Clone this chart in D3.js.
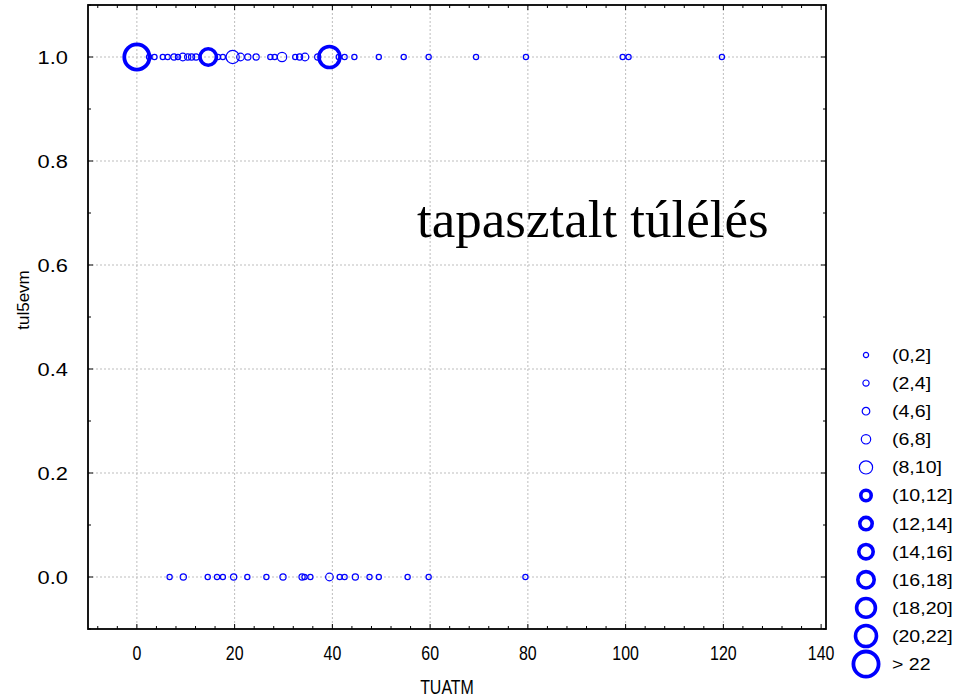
<!DOCTYPE html>
<html lang="en">
<head>
  <meta charset="UTF-8">
  <title>tul5evm vs TUATM</title>
  <script src="https://d3js.org/d3.v7.min.js"></script>
  <style>
    body {
      margin: 0;
      background: white;
      font-family: "Liberation Sans", Arial, sans-serif;
    }
    svg { display: block; }
    text { fill: #000; }
    .grid line { stroke: #bdbdbd; stroke-dasharray: 2,2; stroke-width: 1; }
  </style>
</head>
<body>
  <div id="chart"></div>

  <script>
    // TUATM values and point sizes (count in the bin) for the two rows
    const survivedX = [0, 2.5, 3.6, 5.3, 6.3, 7.6, 8.4, 9.4, 10.4, 11.2, 12.1, 14.6, 16.6, 17.6, 19.6,
      21.2, 22.7, 24.4, 27.3, 28.2, 29.7, 32.4, 33.3, 34.4, 37, 39.4, 41.3, 42.5, 44.5,
      49.5, 54.6, 59.7, 69.4, 79.6, 99.4, 100.6, 119.7];
    const survivedN = [23, 1, 1, 1, 1, 3, 1, 5, 3, 3, 3, 17, 1, 1, 9,
      5, 3, 3, 1, 1, 7, 1, 3, 5, 3, 21, 1, 1, 1,
      1, 1, 1, 1, 1, 1, 1, 1];
    const diedX = [6.7, 9.5, 14.5, 16.4, 17.6, 19.8, 22.6, 26.5, 29.9, 33.8, 34.3, 35.5, 39.4,
      41.5, 42.5, 44.7, 47.6, 49.5, 55.4, 59.7, 79.5];
    const diedN = [1, 4, 1, 1, 1, 4, 1, 1, 3, 3, 1, 1, 5,
      1, 1, 3, 1, 1, 1, 1, 1];

    const xTicks = [0, 20, 40, 60, 80, 100, 120, 140];
    const yTicks = [0, 0.2, 0.4, 0.6, 0.8, 1.0];
    const legendLabels = ["(0,2]", "(2,4]", "(4,6]", "(6,8]", "(8,10]", "(10,12]",
      "(12,14]", "(14,16]", "(16,18]", "(18,20]", "(20,22]", "> 22"];
    // outer radius and stroke width for each bin
    const binRadius = [3.2, 3.7, 4.4, 5.3, 7.2, 7.0, 8.0, 9.0, 10.0, 11.2, 12.3, 14.5];
    const binStroke = [1.2, 1.2, 1.2, 1.2, 1.2, 3.6, 3.6, 3.6, 3.6, 3.6, 3.6, 3.8];

    const width = 959, height = 700;
    const m = { left: 88, right: 826, top: 5, bottom: 629 };

    const x = d3.scaleLinear().domain([-10, 141]).range([m.left, m.right]);
    const y = d3.scaleLinear().domain([-0.1, 1.1]).range([m.bottom, m.top]);

    const svg = d3.select("#chart").append("svg")
      .attr("width", width)
      .attr("height", height);

    // dashed grid
    const grid = svg.append("g").attr("class", "grid");
    grid.selectAll(".gx")
      .data(xTicks.filter(d => d < 140))
      .join("line")
      .attr("class", "gx")
      .attr("x1", d => x(d)).attr("x2", d => x(d))
      .attr("y1", m.top).attr("y2", m.bottom);
    grid.selectAll(".gy")
      .data(yTicks)
      .join("line")
      .attr("class", "gy")
      .attr("x1", m.left).attr("x2", m.right)
      .attr("y1", d => y(d)).attr("y2", d => y(d));

    // tick marks on all four sides, pointing inwards
    const xMinor = d3.range(-8, 141, 4).filter(d => d % 20 !== 0);
    const yMinor = d3.range(-0.1, 1.11, 0.2).map(d => +d.toFixed(1));
    const ticks = svg.append("g").attr("stroke", "#000").attr("stroke-width", 1);
    [[xTicks, 5], [xMinor, 3]].forEach(([vals, len]) => {
      vals.forEach(v => {
        ticks.append("line").attr("x1", x(v)).attr("x2", x(v)).attr("y1", m.bottom).attr("y2", m.bottom - len);
        ticks.append("line").attr("x1", x(v)).attr("x2", x(v)).attr("y1", m.top).attr("y2", m.top + len);
      });
    });
    [[yTicks, 5], [yMinor, 3]].forEach(([vals, len]) => {
      vals.forEach(v => {
        ticks.append("line").attr("x1", m.left).attr("x2", m.left + len).attr("y1", y(v)).attr("y2", y(v));
        ticks.append("line").attr("x1", m.right).attr("x2", m.right - len).attr("y1", y(v)).attr("y2", y(v));
      });
    });

    // frame
    svg.append("rect")
      .attr("x", m.left).attr("y", m.top)
      .attr("width", m.right - m.left).attr("height", m.bottom - m.top)
      .attr("fill", "none")
      .attr("stroke", "#000")
      .attr("stroke-width", 1.8);

    // x tick labels are narrow and tall in the original
    const xs = 0.76;
    svg.append("g").selectAll("text")
      .data(xTicks)
      .join("text")
      .attr("transform", d => `translate(${x(d)}, 660) scale(${xs}, 1)`)
      .attr("font-size", 21)
      .attr("text-anchor", "middle")
      .text(d => d);

    svg.append("g").selectAll("text")
      .data(yTicks)
      .join("text")
      .attr("transform", d => `translate(68, ${y(d)}) scale(1.15, 1)`)
      .attr("dy", "0.35em")
      .attr("font-size", 19)
      .attr("text-anchor", "end")
      .text(d => d3.format(".1f")(d));

    svg.append("text")
      .attr("transform", `translate(447, 694) scale(${xs}, 1)`)
      .attr("font-size", 21)
      .attr("text-anchor", "middle")
      .text("TUATM");

    svg.append("text")
      .attr("transform", "translate(29, 300) rotate(-90)")
      .attr("font-size", 17)
      .attr("text-anchor", "middle")
      .text("tul5evm");

    // bin index from count
    const binOf = n => Math.min(Math.max(Math.ceil(n / 2) - 1, 0), 11);

    const points = [
      ...survivedX.map((v, i) => ({ x: v, y: 1, n: survivedN[i] })),
      ...diedX.map((v, i) => ({ x: v, y: 0, n: diedN[i] }))
    ];

    svg.append("g").selectAll("circle")
      .data(points)
      .join("circle")
      .attr("cx", d => x(d.x))
      .attr("cy", d => y(d.y))
      .attr("r", d => binRadius[binOf(d.n)] - binStroke[binOf(d.n)] / 2)
      .attr("fill", "none")
      .attr("stroke", "#0000ff")
      .attr("stroke-width", d => binStroke[binOf(d.n)]);

    // annotation
    svg.append("text")
      .attr("x", 417)
      .attr("y", 237)
      .attr("font-family", "'Liberation Serif', 'Times New Roman', serif")
      .attr("font-size", 53)
      .text("tapasztalt túlélés");

    // legend
    const legend = svg.append("g").attr("transform", "translate(866, 355)");
    const rows = legend.selectAll("g")
      .data(legendLabels)
      .join("g")
      .attr("transform", (d, i) => `translate(0, ${i * 28.1})`);
    rows.append("circle")
      .attr("r", (d, i) => binRadius[i] - binStroke[i] / 2)
      .attr("fill", "none")
      .attr("stroke", "#0000ff")
      .attr("stroke-width", (d, i) => binStroke[i]);
    rows.append("text")
      .attr("transform", "translate(26, 0) scale(1.15, 1)")
      .attr("dy", "0.35em")
      .attr("font-size", 17)
      .text(d => d);
  </script>
</body>
</html>
